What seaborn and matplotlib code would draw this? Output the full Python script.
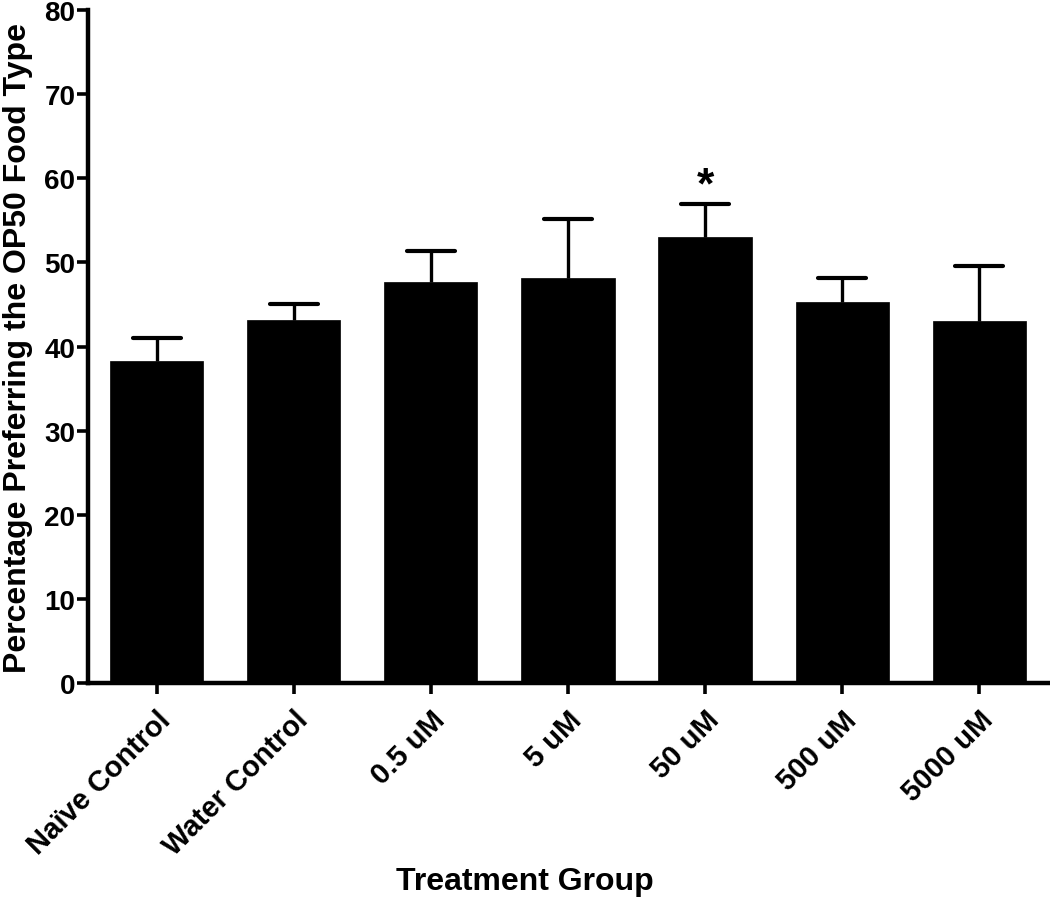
import matplotlib
matplotlib.use("Agg")
import matplotlib.pyplot as plt
import seaborn as sns
import numpy as np
import pandas as pd

groups = ["Naïve Control", "Water Control", "0.5 uM", "5 uM", "50 uM", "500 uM", "5000 uM"]
means = [38.3, 43.2, 47.7, 48.2, 53.0, 45.3, 43.0]
sem = [2.7, 1.8, 3.6, 6.9, 3.9, 2.9, 6.6]
significance = ["", "", "", "", "*", "", ""]
yticks = [0, 10, 20, 30, 40, 50, 60, 70, 80]

sns.set_theme(style="ticks")
plt.rcParams["font.family"] = ["Liberation Sans", "DejaVu Sans"]
plt.rcParams["font.weight"] = "bold"
for k in ["text.color", "axes.labelcolor", "xtick.color", "ytick.color", "axes.edgecolor"]:
    plt.rcParams[k] = "black"

df = pd.DataFrame({"group": groups, "mean": means})

fig = plt.figure(figsize=(10.5, 9.03), dpi=100)
ax = fig.add_axes([0.0838, 0.2425, 0.9142, 0.7453])

sns.barplot(data=df, x="group", y="mean", color="black", saturation=1,
            width=0.68, errorbar=None, edgecolor="black", linewidth=0.5, ax=ax)

xpos = np.arange(len(groups))
tops = np.array(means) + np.array(sem)
ax.vlines(xpos, means, tops, colors="black", linewidth=2.4, zorder=3)
ax.hlines(tops, xpos - 0.175, xpos + 0.175, colors="black", linewidth=3.0,
          capstyle="round", zorder=3)

for x, t, lab in zip(xpos, tops, significance):
    if lab:
        ax.text(x, t - 0.2, lab, ha="center", va="bottom",
                fontsize=32, fontweight="bold", color="black")

ax.set_xlim(-0.5, len(groups) - 0.5)
ax.set_ylim(0, 80)
ax.set_yticks(yticks)
ax.set_yticklabels([str(t) for t in yticks], fontsize=20, fontweight="bold")
ax.set_xticks(xpos)
ax.set_xticklabels(groups, rotation=45, ha="right", rotation_mode="anchor",
                   fontsize=21, fontweight="bold")

for sp in ["top", "right"]:
    ax.spines[sp].set_visible(False)
for sp in ["left", "bottom"]:
    ax.spines[sp].set_linewidth(3.2)
    ax.spines[sp].set_color("black")
ax.tick_params(axis="both", direction="out", length=8, width=2.6, colors="black")
ax.tick_params(axis="y", pad=1)
ax.tick_params(axis="x", pad=8)

ax.set_xlabel("Treatment Group", fontsize=23, fontweight="bold")
ax.set_ylabel("Percentage Preferring the OP50 Food Type", fontsize=23, fontweight="bold")
ax.xaxis.set_label_coords(0.455, -0.272)
ax.yaxis.set_label_coords(-0.057, 0.5)

fig.savefig("out.png", dpi=100, facecolor="white")
